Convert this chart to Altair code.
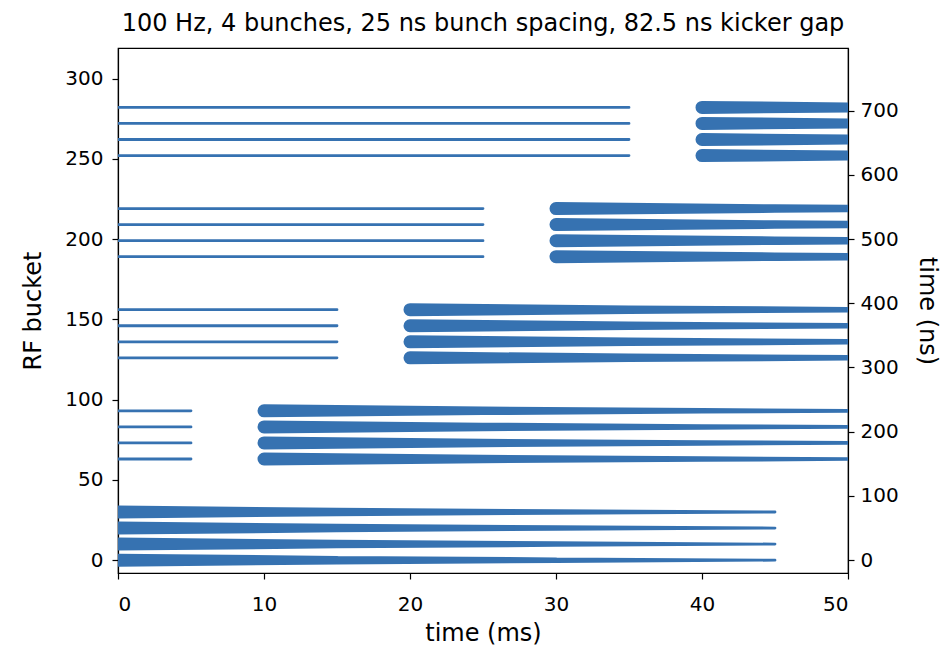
import altair as alt
import pandas as pd

# ---- data ----
bunch_offsets = [0, 10, 20, 30]            # RF buckets within a batch (25 ns spacing)
batch_first_bucket = [0, 63, 126, 189, 252]  # first bucket of each batch (82.5 ns kicker gap)
injection_ms = [0, 10, 20, 30, 40]          # start of the thick (tapering) segment
previous_start_ms = [None, 0, 0, 0, 0]      # thin segment left over from earlier cycle
previous_end_ms = [None, 5, 15, 25, 35]
taper_age_ms = [0, 15, 30, 45]              # age along the thick segment
taper_width_px = [13, 8.5, 5.5, 2.8]        # line width at those ages
thin_width_px = 2.8

ns_per_bucket = 2.5
right_ticks_ns = [0, 100, 200, 300, 400, 500, 600, 700]

rows = []
for b, first in enumerate(batch_first_bucket):
    for o in bunch_offsets:
        bucket = first + o
        lid = f"thick-{b}-{o}"
        for age, w in zip(taper_age_ms, taper_width_px):
            rows.append({"line": lid, "t": injection_ms[b] + age, "bucket": bucket, "w": w})
        if previous_end_ms[b] is not None:
            lid = f"thin-{b}-{o}"
            rows.append({"line": lid, "t": previous_start_ms[b], "bucket": bucket, "w": thin_width_px})
            rows.append({"line": lid, "t": previous_end_ms[b], "bucket": bucket, "w": thin_width_px})
df = pd.DataFrame(rows)

y_dom = [-8, 319]
FONT = "DejaVu Sans"
BLUE = "#3672b1"

trails = alt.Chart(df).mark_trail(clip=True, color=BLUE).encode(
    x=alt.X("t:Q", scale=alt.Scale(domain=[0, 50], nice=False, zero=False),
            axis=alt.Axis(values=[0, 10, 20, 30, 40, 50], title="time (ms)",
                          labelPadding=15, titlePadding=7)),
    y=alt.Y("bucket:Q", scale=alt.Scale(domain=y_dom, nice=False, zero=False),
            axis=alt.Axis(values=[0, 50, 100, 150, 200, 250, 300], title="RF bucket", orient="left",
                          labelPadding=9, titlePadding=19)),
    size=alt.Size("w:Q", scale=None, legend=None),
    detail="line:N",
    order="t:Q",
)

ns_df = pd.DataFrame({"ns": right_ticks_ns})
right = alt.Chart(ns_df).mark_point(opacity=0).encode(
    y=alt.Y("ns:Q", scale=alt.Scale(domain=[y_dom[0] * ns_per_bucket, y_dom[1] * ns_per_bucket], nice=False, zero=False),
            axis=alt.Axis(values=right_ticks_ns, title="time (ns)", orient="right",
                          labelPadding=6, titlePadding=16)),
    x=alt.value(0),
)

chart = alt.layer(trails, right).resolve_scale(y="independent").properties(
    width=730, height=525,
    title=alt.TitleParams("100 Hz, 4 bunches, 25 ns bunch spacing, 82.5 ns kicker gap",
                          fontSize=24, font=FONT, fontWeight="normal", color="black", offset=12),
    autosize=alt.AutoSizeParams(type="none"),
    padding={"left": 118, "top": 48, "right": 98, "bottom": 74},
).configure_view(stroke="black", strokeWidth=1.2).configure_axis(
    grid=False, domainColor="black", tickColor="black", tickSize=6, tickWidth=1.2, domainWidth=1.2,
    labelFont=FONT, titleFont=FONT, labelFontSize=20, titleFontSize=24,
    labelColor="black", titleColor="black", titleFontWeight="normal",
)

chart.save("out.html", embed_options={"renderer": "svg", "actions": False})
